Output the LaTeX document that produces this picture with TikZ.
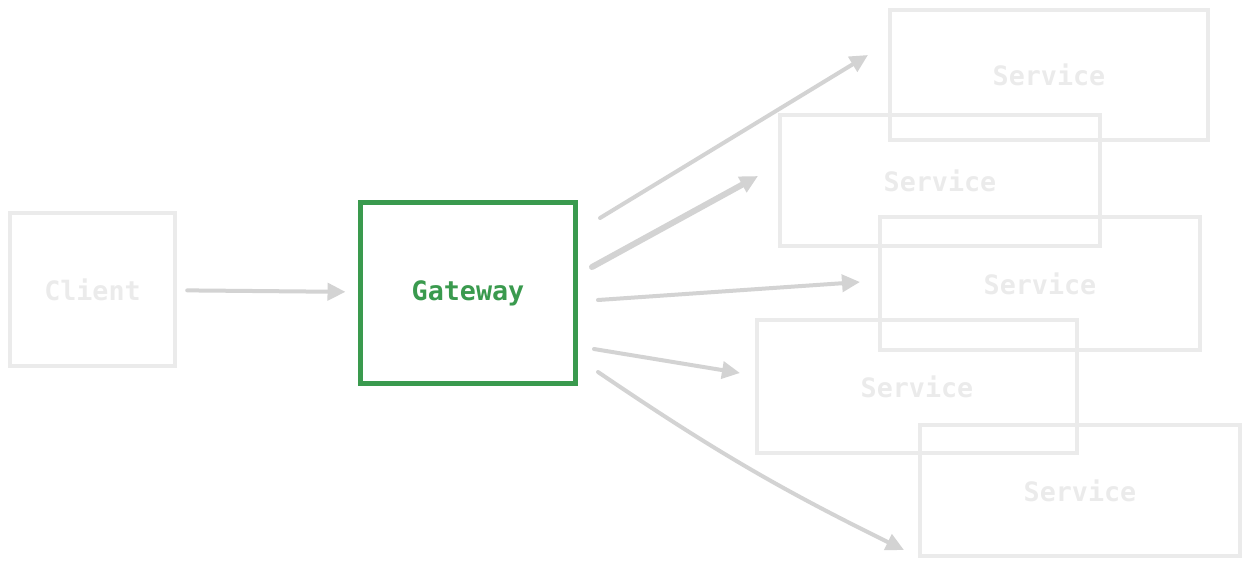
\documentclass[tikz,border=0pt]{standalone}
\usepackage{fontspec}
\setmonofont{DejaVu Sans Mono}
\usetikzlibrary{arrows.meta}

\definecolor{boxgray}{HTML}{EBEBEB}
\definecolor{arrowgray}{HTML}{D3D3D3}
\definecolor{gwgreen}{HTML}{3A9A4E}

\begin{document}
\begin{tikzpicture}[x=0.02cm, y=-0.02cm,
		box/.style={draw=boxgray, line width=0.09cm, text=boxgray, inner sep=0pt,
			font=\ttfamily\bfseries\fontsize{15.2}{18}\selectfont},
		svc/.style={box, minimum width=6.4cm, minimum height=2.62cm},
		link/.style={draw=arrowgray, line width=0.08cm, line cap=round,
			-{Triangle[length=0.36cm, width=0.34cm]}}]
			\useasboundingbox (0,0) rectangle (1248,566);

			\node[box, minimum width=3.3cm, minimum height=3.06cm] (client) at (92.5,289.5) {Client};
			\node[box, draw=gwgreen, text=gwgreen, line width=0.1cm, minimum width=4.32cm, minimum height=3.64cm] (gateway) at (468,293) {Gateway};

			\node[svc, minimum width=6.36cm, minimum height=2.6cm] (svcA) at (1049,75) {Service};
			\node[svc] (svcB) at (940,180.5) {Service};
			\node[svc, minimum height=2.66cm] (svcC) at (1040,283.5) {Service};
			\node[svc, minimum height=2.66cm] (svcD) at (917,386.5) {Service};
			\node[svc] (svcE) at (1080,490.5) {Service};

			% partenze e arrivi delle frecce
			\coordinate (outA) at (600,218); \coordinate (inA) at (868,55);
			\coordinate (outB) at (592,267); \coordinate (inB) at (758,176);
			\coordinate (outC) at (598,300); \coordinate (inC) at (860,282);
			\coordinate (outD) at (594,349); \coordinate (inD) at (740,373);
			\coordinate (outE) at (598,372); \coordinate (inE) at (904,550);

			\draw[link, shorten <=0.2cm, shorten >=0.24cm] (client) -- (gateway);
			\draw[link] (outA) -- (inA);
			\draw[link, line width=0.12cm] (outB) -- (inB);
			\draw[link] (outC) -- (inC);
			\draw[link] (outD) -- (inD);
			\draw[link] (outE) to[bend right=4] (inE);
		\end{tikzpicture}
\end{document}
